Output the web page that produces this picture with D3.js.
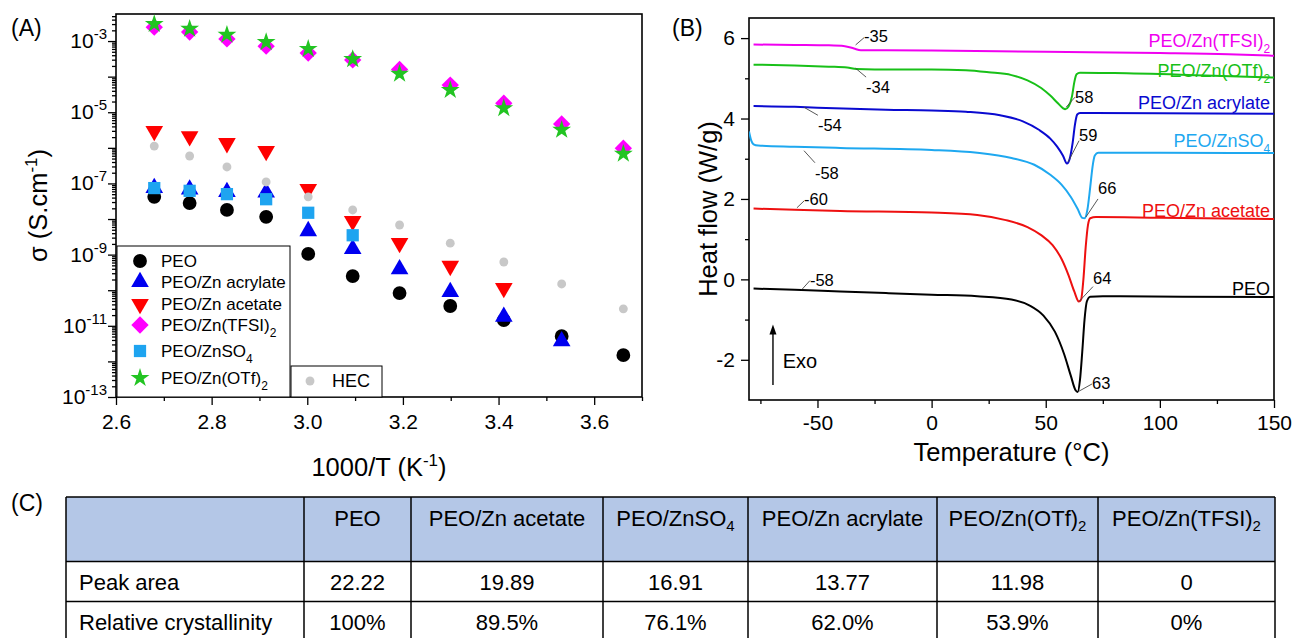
<!DOCTYPE html>
<html><head><meta charset="utf-8">
<script src="https://cdn.jsdelivr.net/npm/d3@7"></script>
<style>
body{margin:0;background:#fff}
svg{display:block;font-family:"Liberation Sans",Arial,sans-serif}
</style>
</head><body>
<svg id="c" width="1293" height="638"></svg>
<script>
// ---------------- DATA: panel A (conductivity) ----------------
const invT = [2.680, 2.754, 2.832, 2.914, 3.002, 3.095, 3.193, 3.299, 3.411, 3.532, 3.661];
const sPEO      = [4.2e-8, 2.8e-8, 1.8e-8, 1.15e-8, 1.05e-9, 2.5e-10, 8.3e-11, 3.6e-11, 1.45e-11, 5.1e-12, 1.5e-12];
const sAcrylate = [7.5e-8, 6.8e-8, 5.8e-8, 5.6e-8, 4.6e-9, 1.45e-9, 3.9e-10, 8.9e-11, 1.8e-11, 3.7e-12, null];
const sAcetate  = [2.95e-6, 2.1e-6, 1.35e-6, 8.1e-7, 6.9e-8, 8.7e-9, 2.1e-9, 4.8e-10, 1.15e-10, null, null];
const sTFSI     = [2.45e-3, 1.8e-3, 1.15e-3, 7.2e-4, 4.6e-4, 2.95e-4, 1.6e-4, 5.8e-5, 1.8e-5, 4.7e-6, 9.8e-7];
const sZnSO4    = [7.4e-8, 6.2e-8, 5.0e-8, 3.6e-8, 1.5e-8, 3.5e-9, null, null, null, null, null];
const sOTf      = [3.0e-3, 2.2e-3, 1.5e-3, 9.3e-4, 6.0e-4, 3.1e-4, 1.2e-4, 4.2e-5, 1.3e-5, 3.2e-6, 6.8e-7];
const sHEC      = [1.12e-6, 5.9e-7, 2.9e-7, 1.1e-7, 4.2e-8, 1.8e-8, 6.8e-9, 2.1e-9, 6.2e-10, 1.5e-10, 3.0e-11];
const xTicksA = [2.6, 2.8, 3.0, 3.2, 3.4, 3.6];
const yLabelExpA = [-13, -11, -9, -7, -5, -3];

// ---------------- DATA: panel B (DSC) ----------------
const tTFSI = [-78, -60, -45, -38, -34, -31, -20, 0, 50, 100, 130, 150];
const hTFSI = [5.84, 5.83, 5.82, 5.80, 5.74, 5.70, 5.70, 5.69, 5.66, 5.63, 5.60, 5.56];
const tOTf = [-78, -60, -45, -37, -33, -25, 0, 15, 25, 35, 42, 48, 52, 55, 57.5, 58.5, 60, 61.5, 62.5, 63.5, 65, 80, 120, 150];
const hOTf = [5.34, 5.32, 5.29, 5.27, 5.23, 5.22, 5.22, 5.20, 5.15, 5.08, 4.95, 4.76, 4.57, 4.40, 4.26, 4.23, 4.30, 4.55, 4.90, 5.10, 5.14, 5.13, 5.07, 5.02];
const tAcr = [-78, -60, -50, -20, 0, 15, 30, 40, 47, 52, 55, 57.5, 59.3, 60.5, 61.8, 62.8, 63.8, 65, 100, 150];
const hAcr = [4.31, 4.29, 4.27, 4.22, 4.20, 4.17, 4.08, 3.93, 3.72, 3.50, 3.30, 3.08, 2.88, 3.00, 3.40, 3.85, 4.10, 4.14, 4.13, 4.12];
const tSO4 = [-80, -79, -78, -76, -60, -40, 0, 20, 35, 45, 52, 57, 61, 64, 66, 67, 68.3, 69.5, 70.5, 71.5, 73, 100, 150];
const hSO4 = [3.68, 3.45, 3.36, 3.33, 3.30, 3.27, 3.22, 3.15, 3.02, 2.85, 2.60, 2.35, 2.05, 1.75, 1.53, 1.52, 1.75, 2.30, 2.80, 3.08, 3.15, 3.15, 3.14];
const tAce = [-78, -60, -40, 0, 20, 32, 42, 48, 53, 57, 60, 62.5, 64.5, 65.5, 66.5, 67.5, 68.5, 69.5, 72, 100, 150];
const hAce = [1.76, 1.73, 1.70, 1.66, 1.60, 1.48, 1.30, 1.10, 0.85, 0.50, 0.10, -0.30, -0.55, -0.50, 0.00, 0.80, 1.35, 1.52, 1.55, 1.53, 1.50];
const tPEO = [-78, -60, -40, -20, 0, 20, 35, 43, 49, 54, 58, 61, 63, 64, 65, 66, 67, 68, 69.5, 75, 110, 150];
const hPEO = [-0.23, -0.26, -0.30, -0.34, -0.38, -0.42, -0.50, -0.65, -0.90, -1.30, -1.85, -2.40, -2.75, -2.80, -2.50, -1.80, -1.00, -0.55, -0.43, -0.42, -0.43, -0.44];
const xTicksB = [-50, 0, 50, 100, 150];
const yTicksB = [-2, 0, 2, 4, 6];
const curveNamesB = ["PEO/Zn(TFSI)", "PEO/Zn(OTf)", "PEO/Zn acrylate", "PEO/ZnSO", "PEO/Zn acetate", "PEO"];
const curveSubsB  = ["2", "2", "", "4", "", ""];
const curveLabelV = [5.93, 5.20, 4.41, 3.46, 1.72, -0.23];
// annotations: glass transition / melting temperatures
const annText = ["-35", "-34", "58", "-54", "59", "-58", "66", "-60", "-58", "64", "63"];
const annT0 = [-33.3, -33.3, 58.9, -55.9, 59.8, -55.9, 67.6, -59.0, -56.8, 64.6, 64.6];
const annV0 = [5.83, 5.25, 4.28, 4.28, 2.92, 3.20, 1.55, 1.78, -0.25, -0.55, -2.78];
const annT1 = [-29.6, -28.7, 62.8, -49.8, 64.6, -51.1, 72.9, -55.9, -53.3, 70.7, 70.3];
const annV1 = [6.01, 5.03, 4.53, 4.08, 3.45, 2.90, 2.00, 1.95, -0.03, -0.18, -2.60];
const annTV = [6.03, 4.78, 4.53, 3.83, 3.58, 2.63, 2.25, 1.98, -0.04, 0.03, -2.58];

// ---------------- DATA: table (C) ----------------
const tableHead = ["", "PEO", "PEO/Zn acetate", "PEO/ZnSO", "PEO/Zn acrylate", "PEO/Zn(OTf)", "PEO/Zn(TFSI)"];
const tableHeadSub = ["", "", "", "4", "", "2", "2"];
const peakArea = ["22.22", "19.89", "16.91", "13.77", "11.98", "0"];
const crystallinity = ["100%", "89.5%", "76.1%", "62.0%", "53.9%", "0%"];

// ================================================================
const svg = d3.select("#c");
function addSub(sel, main, sub, subSize, shift) {
  sel.append("tspan").text(main);
  if (sub) sel.append("tspan").attr("font-size", subSize).attr("dy", shift).text(sub);
}

// ---------------- Panel A ----------------
const A = {l: 116, r: 642, t: 14, b: 397};
const xA = d3.scaleLinear().domain([2.6, 3.7]).range([A.l, A.r]);
const yA = d3.scaleLog().domain([1e-13, Math.pow(10, -2.24)]).range([A.b, A.t]);
const gA = svg.append("g");

const axXminor = d3.axisBottom(xA).tickValues([2.7, 2.9, 3.1, 3.3, 3.5, 3.7]).tickSize(4).tickFormat("");
gA.append("g").attr("transform", `translate(0,${A.b})`).call(axXminor);
const axX = d3.axisBottom(xA).tickValues(xTicksA).tickSize(8).tickPadding(9).tickFormat(d3.format(".1f"));
const gx = gA.append("g").attr("transform", `translate(0,${A.b})`).call(axX);
gx.selectAll("text").attr("font-size", 21).attr("fill", "#000").attr("font-family", null);
const decades = d3.range(-13, -2).map(e => Math.pow(10, e));
const minors = [];
for (let e = -13; e <= -3; e++) for (let m = 2; m <= 9; m++) { const v = m * Math.pow(10, e); if (v <= yA.domain()[1]) minors.push(v); }
gA.append("g").attr("transform", `translate(${A.l},0)`).call(d3.axisLeft(yA).tickValues(minors).tickSize(4).tickFormat(""));
gA.append("g").attr("transform", `translate(${A.l},0)`).call(d3.axisLeft(yA).tickValues(decades).tickSize(8).tickFormat(""));
gA.selectAll(".domain").remove();
gA.selectAll(".tick line").attr("stroke", "#000").attr("stroke-width", 1.3);
yLabelExpA.forEach(e => {
  const t = gA.append("text").attr("x", 107).attr("y", yA(Math.pow(10, e)) + 7)
    .attr("text-anchor", "end").attr("font-size", 21);
  t.append("tspan").text("10");
  t.append("tspan").attr("font-size", 15).attr("dy", -9).text(String(e));
});
gA.append("rect").attr("x", A.l).attr("y", A.t).attr("width", A.r - A.l).attr("height", A.b - A.t)
  .attr("fill", "none").attr("stroke", "#000").attr("stroke-width", 1.6);

const symDiamond = {draw(ctx, size) { const s = Math.sqrt(size / 2); ctx.moveTo(0, -s); ctx.lineTo(s, 0); ctx.lineTo(0, s); ctx.lineTo(-s, 0); ctx.closePath(); }};
const symTriDown = {draw(ctx, size) { const h = Math.sqrt(size * 4 / Math.sqrt(3)) * Math.sqrt(3) / 2, w = h / Math.sqrt(3); ctx.moveTo(-w, -h / 3); ctx.lineTo(w, -h / 3); ctx.lineTo(0, 2 * h / 3); ctx.closePath(); }};
const seriesA = [
  {name: "PEO", sub: "", vals: sPEO, type: d3.symbolCircle, size: 150, color: "#000000"},
  {name: "PEO/Zn acrylate", sub: "", vals: sAcrylate, type: d3.symbolTriangle, size: 135, color: "#0000F0"},
  {name: "PEO/Zn acetate", sub: "", vals: sAcetate, type: symTriDown, size: 135, color: "#FF0000"},
  {name: "PEO/Zn(TFSI)", sub: "2", vals: sTFSI, type: symDiamond, size: 150, color: "#FF00FF"},
  {name: "PEO/ZnSO", sub: "4", vals: sZnSO4, type: d3.symbolSquare, size: 150, color: "#1EA4F0"},
  {name: "PEO/Zn(OTf)", sub: "2", vals: sOTf, type: d3.symbolStar, size: 110, color: "#22C422"},
  {name: "HEC", sub: "", vals: sHEC, type: d3.symbolCircle, size: 62, color: "#C8C8C8"}
];
seriesA.forEach(s => {
  const pts = invT.map((x, i) => [x, s.vals[i]]).filter(d => d[1] != null);
  gA.append("g").selectAll("path").data(pts).join("path")
    .attr("d", d3.symbol().type(s.type).size(s.size))
    .attr("transform", d => `translate(${xA(d[0])},${yA(d[1])})`)
    .attr("fill", s.color);
});
// legend
const legRowsY = [261, 282, 304, 325, 351, 378];
gA.append("rect").attr("x", 117).attr("y", 246).attr("width", 173).attr("height", 151)
  .attr("fill", "#fff").attr("stroke", "#000").attr("stroke-width", 1);
seriesA.slice(0, 6).forEach((s, i) => {
  gA.append("path").attr("d", d3.symbol().type(s.type).size(s.size)())
    .attr("transform", `translate(140,${legRowsY[i]})`).attr("fill", s.color);
  const t = gA.append("text").attr("x", 161).attr("y", legRowsY[i] + 6).attr("font-size", 17);
  addSub(t, s.name, s.sub, 12, 6);
});
gA.append("rect").attr("x", 291).attr("y", 366).attr("width", 91).attr("height", 31)
  .attr("fill", "#fff").attr("stroke", "#000").attr("stroke-width", 1);
gA.append("path").attr("d", d3.symbol().type(d3.symbolCircle).size(62)()).attr("transform", "translate(310,381)").attr("fill", "#C8C8C8");
gA.append("text").attr("x", 332).attr("y", 387).attr("font-size", 18).text("HEC");
// titles
const tA = gA.append("text").attr("x", (A.l + A.r) / 2).attr("y", 476).attr("text-anchor", "middle").attr("font-size", 25.5);
tA.append("tspan").text("1000/T (K");
tA.append("tspan").attr("font-size", 17).attr("dy", -10).text("-1");
tA.append("tspan").attr("dy", 10).text(")");
const yTA = gA.append("text").attr("transform", `translate(47,${(A.t + A.b) / 2}) rotate(-90)`).attr("text-anchor", "middle").attr("font-size", 25.5);
yTA.append("tspan").text("σ (S.cm");
yTA.append("tspan").attr("font-size", 17).attr("dy", -10).text("-1");
yTA.append("tspan").attr("dy", 10).text(")");
svg.append("text").attr("x", 11).attr("y", 36).attr("font-size", 23).text("(A)");

// ---------------- Panel B ----------------
const B = {l: 749, r: 1274, t: 18, b: 400};
const xB = d3.scaleLinear().domain([-80, 150]).range([B.l, B.r]);
const yB = d3.scaleLinear().domain([-3, 6.5]).range([B.b, B.t]);
const gB = svg.append("g");
gB.append("g").attr("transform", `translate(0,${B.b})`).call(d3.axisBottom(xB).tickValues([-75, -25, 25, 75, 125]).tickSize(4).tickFormat(""));
gB.append("g").attr("transform", `translate(0,${B.b})`).call(d3.axisBottom(xB).tickValues(xTicksB).tickSize(8).tickPadding(7).tickFormat(d => d3.format("d")(d).replace("−", "-")));
gB.append("g").attr("transform", `translate(${B.l},0)`).call(d3.axisLeft(yB).tickValues([-1, 1, 3, 5]).tickSize(4).tickFormat(""));
gB.append("g").attr("transform", `translate(${B.l},0)`).call(d3.axisLeft(yB).tickValues(yTicksB).tickSize(8).tickPadding(6).tickFormat(d => d3.format("d")(d).replace("−", "-")));
gB.selectAll(".domain").remove();
gB.selectAll(".tick line").attr("stroke", "#000").attr("stroke-width", 1.3);
gB.selectAll(".tick text").attr("font-size", 21).attr("fill", "#000").attr("font-family", null);
gB.append("rect").attr("x", B.l).attr("y", B.t).attr("width", B.r - B.l).attr("height", B.b - B.t)
  .attr("fill", "none").attr("stroke", "#000").attr("stroke-width", 1.6);
svg.append("defs").append("clipPath").attr("id", "clipB").append("rect")
  .attr("x", B.l).attr("y", B.t).attr("width", B.r - B.l).attr("height", B.b - B.t);
const curvesB = [
  {t: tTFSI, h: hTFSI, color: "#F000F0"},
  {t: tOTf, h: hOTf, color: "#18C018"},
  {t: tAcr, h: hAcr, color: "#0A0AD0"},
  {t: tSO4, h: hSO4, color: "#1EA8F0"},
  {t: tAce, h: hAce, color: "#EE1010"},
  {t: tPEO, h: hPEO, color: "#000000"}
];
const lineB = d3.line().x(d => xB(d[0])).y(d => yB(d[1])).curve(d3.curveMonotoneX);
const gc = gB.append("g").attr("clip-path", "url(#clipB)");
curvesB.forEach((c, i) => {
  gc.append("path").attr("d", lineB(c.t.map((t, j) => [t, c.h[j]])))
    .attr("fill", "none").attr("stroke", c.color).attr("stroke-width", 2);
  const t = gB.append("text").attr("x", xB(148.3)).attr("y", yB(curveLabelV[i]) + 6.5)
    .attr("text-anchor", "end").attr("font-size", 18).attr("fill", c.color);
  addSub(t, curveNamesB[i], curveSubsB[i], 12, 6);
});
annText.forEach((s, i) => {
  gB.append("line").attr("x1", xB(annT0[i])).attr("y1", yB(annV0[i])).attr("x2", xB(annT1[i])).attr("y2", yB(annV1[i]))
    .attr("stroke", "#444").attr("stroke-width", 0.9);
  gB.append("text").attr("x", xB(annT1[i])).attr("y", yB(annTV[i]) + 5.5).attr("font-size", 16.5).text(s);
});
// Exo arrow
gB.append("line").attr("x1", xB(-69.5)).attr("x2", xB(-69.5)).attr("y1", yB(-2.63)).attr("y2", yB(-1.3))
  .attr("stroke", "#000").attr("stroke-width", 1.4);
gB.append("path").attr("d", `M${xB(-69.5)},${yB(-1.12)} l-3.5,10 l7,0 z`).attr("fill", "#000");
gB.append("text").attr("x", xB(-65.2)).attr("y", yB(-2.2)).attr("font-size", 20).text("Exo");
gB.append("text").attr("x", (B.l + B.r) / 2).attr("y", 461).attr("text-anchor", "middle").attr("font-size", 25.5).text("Temperature (°C)");
gB.append("text").attr("transform", `translate(717,${(B.t + B.b) / 2}) rotate(-90)`).attr("text-anchor", "middle").attr("font-size", 25.5).text("Heat flow (W/g)");
svg.append("text").attr("x", 672).attr("y", 36).attr("font-size", 23).text("(B)");

// ---------------- Table (C) ----------------
svg.append("text").attr("x", 11).attr("y", 511).attr("font-size", 23).text("(C)");
const colX = [66, 304, 411, 603, 748, 937, 1098, 1275];
const rowY = [497, 561.5, 601.5, 642];
const gT = svg.append("g").attr("font-size", 22);
gT.append("rect").attr("x", colX[0]).attr("y", rowY[0]).attr("width", colX[7] - colX[0]).attr("height", rowY[1] - rowY[0]).attr("fill", "#B4C7E7");
rowY.forEach(y => gT.append("line").attr("x1", colX[0]).attr("x2", colX[7]).attr("y1", y).attr("y2", y).attr("stroke", "#000").attr("stroke-width", 1.5));
colX.forEach(x => gT.append("line").attr("x1", x).attr("x2", x).attr("y1", rowY[0]).attr("y2", rowY[3]).attr("stroke", "#000").attr("stroke-width", 1.5));
tableHead.forEach((h, i) => {
  if (!h) return;
  const t = gT.append("text").attr("x", (colX[i] + colX[i + 1]) / 2).attr("y", 526).attr("text-anchor", "middle");
  addSub(t, h, tableHeadSub[i], 15, 5);
});
gT.append("text").attr("x", 79).attr("y", 590).text("Peak area");
gT.append("text").attr("x", 79).attr("y", 630).text("Relative crystallinity");
peakArea.forEach((v, i) => gT.append("text").attr("x", (colX[i + 1] + colX[i + 2]) / 2).attr("y", 590).attr("text-anchor", "middle").text(v));
crystallinity.forEach((v, i) => gT.append("text").attr("x", (colX[i + 1] + colX[i + 2]) / 2).attr("y", 630).attr("text-anchor", "middle").text(v));
</script>
</body></html>
